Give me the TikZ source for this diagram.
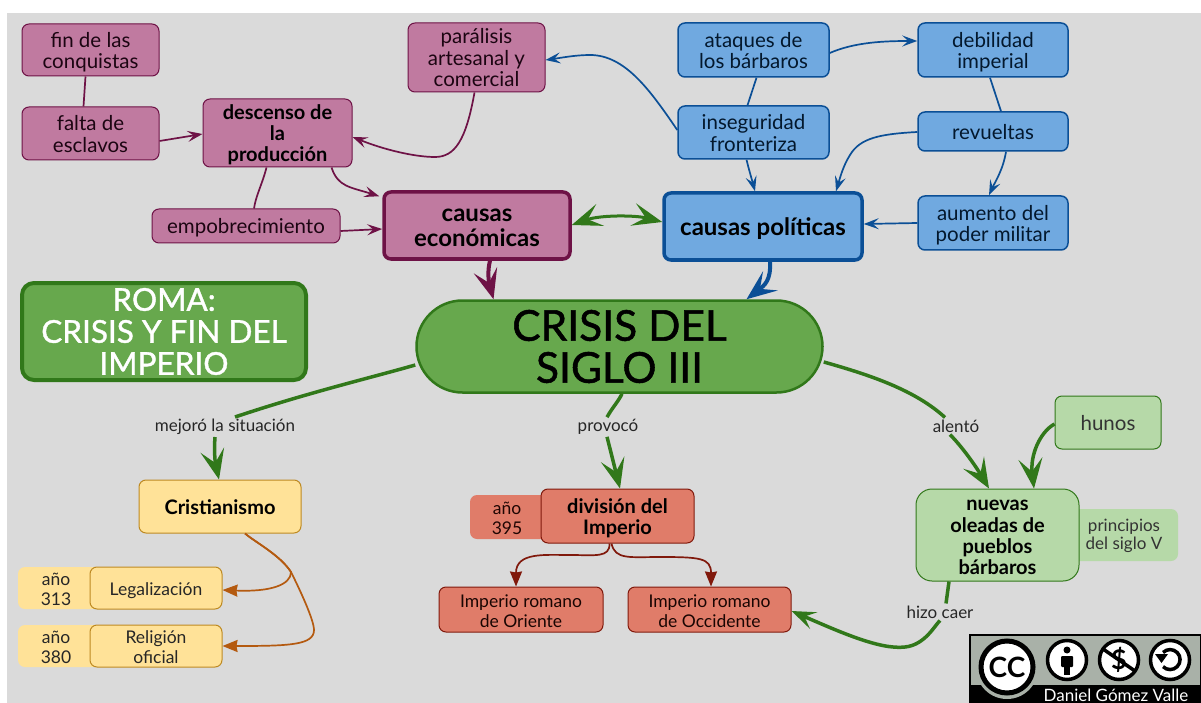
\documentclass[tikz,border=0pt]{standalone}
\usepackage{fontspec}
\setmainfont{Lato}
\newfontfamily\fatfont[FakeBold=1.2]{Lato}
\usetikzlibrary{arrows.meta,calc,positioning}
\definecolor{bgG}{HTML}{DADADA}
\definecolor{mar}{HTML}{6E1246}
\definecolor{marF}{HTML}{C07AA0}
\definecolor{blu}{HTML}{0B4F96}
\definecolor{bluF}{HTML}{70A9E0}
\definecolor{grn}{HTML}{31781A}
\definecolor{grnF}{HTML}{67A84D}
\definecolor{lgF}{HTML}{B6D9A8}
\definecolor{yelF}{HTML}{FFE298}
\definecolor{yelD}{HTML}{BE8A22}
\definecolor{org}{HTML}{B45A10}
\definecolor{redF}{HTML}{E07C69}
\definecolor{redD}{HTML}{80190C}
\definecolor{ccG}{HTML}{A9B1A8}
\tikzset{
 x=1pt,y=-1pt,
 bx/.style={rounded corners=7pt,inner sep=0pt},
 mb/.style={draw=mar,fill=marF,line width=1pt,text=black!75!mar,font=\fontsize{20.5}{21}\selectfont},
 bb/.style={draw=blu,fill=bluF,line width=1.5pt,text=black!70!blu,font=\fontsize{20.5}{21}\selectfont},
 bold18/.style={font=\bfseries\fontsize{20}{21}\selectfont,text=black},
 bold21/.style={font=\bfseries\fontsize{24}{24}\selectfont,text=black},
 small/.style={font=\fontsize{17.5}{20}\selectfont},
 lbl/.style={fill=bgG,inner sep=2pt,text=black!85,font=\fontsize{17}{17}\selectfont},
 mline/.style={draw=mar,line width=1.7pt},
 bline/.style={draw=blu,line width=1.7pt},
 gline/.style={draw=grn,line width=3.5pt},
 oline/.style={draw=org,line width=1.7pt},
 rline/.style={draw=redD,line width=1.7pt},
 tip/.style={-{Stealth[length=15pt,width=11pt,inset=6pt]}},
 bigtip/.style={-{Stealth[length=30pt,width=24pt,inset=13pt]}},
 solid tip/.style={-{Stealth[length=15pt,width=12pt,inset=1pt]}},
}
\newcommand{\boxat}[7]{\pgfmathsetmacro\bxw{#5-#3}\pgfmathsetmacro\bxh{#6-#4}\pgfmathsetmacro\bxx{(#3+#5)/2}\pgfmathsetmacro\bxy{(#4+#6)/2}\node[bx,#1,minimum width=\bxw pt,minimum height=\bxh pt] (#2) at (\bxx,\bxy) {\raisebox{-3.5pt}[\height][\depth]{\begin{tabular}{@{}c@{}}#7\end{tabular}}}}
\begin{document}
\begin{tikzpicture}
\useasboundingbox (0,0) rectangle (1201,703);
\fill[white] (0,0) rectangle (1201,703);
\fill[bgG] (7,13) rectangle (1201,703);

% secondary (attached) boxes first
\fill[yelF,rounded corners=7pt] (18,567) rectangle (100,609);
\fill[yelF,rounded corners=7pt] (18,625) rectangle (100,667);
\fill[redF,rounded corners=7pt] (470,495) rectangle (550,539);
\fill[lgF,rounded corners=7pt] (1070,509) rectangle (1178,561);

% maroon
\boxat{mb}{fin}{22}{24}{159}{76}{fin de las\\conquistas};
\boxat{mb}{falta}{22}{107}{159}{160}{falta de\\esclavos};
\boxat{mb,bold18}{desc}{203}{99}{352}{167}{descenso de\\la\\producción};
\boxat{mb}{par}{408}{23}{545}{92}{parálisis\\artesanal y\\comercial};
\boxat{mb}{emp}{152}{209}{340}{243}{empobrecimiento};
\boxat{mb,line width=3.5pt,bold21}{econ}{384}{192}{570}{259}{causas\\económicas};
% blue
\boxat{bb}{ata}{678}{23}{829}{77}{ataques de\\los bárbaros};
\boxat{bb}{ins}{678}{106}{829}{159}{inseguridad\\fronteriza};
\boxat{bb}{deb}{918}{23}{1068}{77}{debilidad\\imperial};
\boxat{bb}{rev}{918}{112}{1068}{151}{revueltas};
\boxat{bb}{aum}{918}{196}{1068}{250}{aumento del\\poder militar};
\boxat{bb,line width=3.5pt,bold21}{pol}{664}{193}{862}{260}{causas políticas};
% green
\node[draw=grn,fill=grnF,line width=2.5pt,rounded corners=46pt,minimum width=406pt,minimum height=92pt,align=center,inner sep=0pt,font=\fatfont\fontsize{42.5}{42}\selectfont,text=black] (cri) at (619.5,346.5) {CRISIS DEL\\SIGLO III};
\node[draw=grn,fill=grnF,line width=4pt,rounded corners=12pt,minimum width=284pt,minimum height=97pt,align=center,inner sep=0pt,font=\fatfont\fontsize{31.5}{32}\selectfont,text=white] (rom) at (164,331.5) {ROMA:\\CRISIS Y FIN DEL\\IMPERIO};
% yellow
\boxat{draw=yelD,fill=yelF,line width=1pt,bold18}{cris}{139}{480}{301}{533}{Cristianismo};
\boxat{draw=yelD,fill=yelF,line width=1pt,small,text=black!85}{leg}{90}{567}{222}{609}{Legalización};
\boxat{draw=yelD,fill=yelF,line width=1pt,small,text=black!85}{rel}{90}{625}{222}{667}{Religión\\oficial};
\node[small,align=center,text=black!85] (a313) at (56,589) {año\\313};
\node[small,align=center,text=black!85] (a380) at (56,647) {año\\380};
% red
\boxat{draw=redD,fill=redF,line width=1pt,bold18}{div}{541}{489}{694}{543}{división del\\Imperio};
\node[small,align=center,text=black!75!redD] (a395) at (507,518) {año\\395};
\boxat{draw=redD,fill=redF,line width=1pt,small,text=black!80!redD}{ori}{439}{587}{603}{632}{Imperio romano\\de Oriente};
\boxat{draw=redD,fill=redF,line width=1pt,small,text=black!80!redD}{occ}{628}{587}{791}{632}{Imperio romano\\de Occidente};
% light green
\boxat{draw=grn,fill=lgF,line width=1pt,font=\fontsize{20.5}{21}\selectfont,text=black!80}{hun}{1055}{396}{1161}{449}{hunos};
\boxat{draw=grn,fill=lgF,line width=1pt,rounded corners=16pt,bold18}{nue}{916}{489}{1079}{581}{nuevas\\oleadas de\\pueblos\\bárbaros};
\node[font=\fontsize{17}{18}\selectfont,align=center,text=black!80] (pri) at (1124,536) {principios\\del siglo V};
% labels
\node[lbl] (l1) at (225,427) {mejoró la situación};
\node[lbl] (l2) at (608,427) {provocó};
\node[lbl] (l3) at (956,426) {alentó};
\node[lbl] (l4) at (940,612) {hizo caer};

% maroon connectors
\draw[mline] ($(fin.south)+(-5,0)$) -- ($(falta.north)+(-7,0)$);
\draw[mline,tip] (falta.east |- 0,141) -- (desc.west |- 0,134);
\draw[mline,tip] ($(par.south)+(-2,0)$) .. controls (466,140) and (455,157) .. (435,157) .. controls (415,157) and (385,150) .. (desc.east |- 0,137);
\draw[mline,tip] ($(desc.south)+(54,0)$) .. controls (338,187) and (350,187) .. ($(econ.north west)+(-3,6)$);
\draw[mline] ($(desc.south)+(-11,0)$) .. controls (262,185) and (256,195) .. ($(emp.north)+(8,0)$);
\draw[mline,tip] (emp.east |- 0,231) -- (econ.west |- 0,229);
\draw[draw=mar,line width=4pt,bigtip] ($(econ.south)+(13,0)$) .. controls (487,272) and (489,283) .. ($(cri.north)+(-126,0)$);
% blue connectors
\draw[bline,tip] (ins.west |- 0,130) .. controls (650,90) and (625,55) .. (590,55) .. controls (575,55) and (560,58) .. (par.east |- 0,60);
\draw[bline,tip] (ata.east |- 0,53) .. controls (855,42) and (885,41) .. (deb.west |- 0,41);
\draw[bline] ($(ata.south)+(3,0)$) -- ($(ins.north)+(-6,0)$);
\draw[bline] ($(deb.south)+(-3,0)$) -- ($(rev.north)+(8,0)$);
\draw[bline,tip] (rev.west |- 0,132) .. controls (880,134) and (860,138) .. (850,155) .. controls (843,166) and (840,178) .. (pol.north -| 836,0);
\draw[bline,tip] ($(rev.south)+(13,0)$) .. controls (1003,170) and (995,182) .. ($(aum.north)+(-4,0)$);
\draw[bline,tip] ($(ins.south)+(-7,0)$) .. controls (749,170) and (752,180) .. ($(pol.north)+(-8,0)$);
\draw[bline,tip] (aum.west |- 0,223) -- (pol.east |- 0,224);
\draw[draw=blu,line width=4pt,bigtip] ($(pol.south)+(7,0)$) .. controls (771,280) and (765,285) .. ($(cri.north)+(127,0)$);
% green connectors
\draw[draw=grn,line width=3pt,{Stealth[length=30pt,width=23pt,inset=13pt]}-{Stealth[length=30pt,width=23pt,inset=13pt]}] (econ.east |- 0,225) .. controls (600,215) and (635,215) .. (pol.west |- 0,222);
\draw[gline] (cri.west |- 0,365) .. controls (370,378) and (310,392) .. (l1.north -| 235,0);
\draw[gline,bigtip] (l1.south -| 215,0) .. controls (214,450) and (215,462) .. (cris.north -| 219,0);
\draw[gline] (cri.south -| 622,0) .. controls (618,402) and (612,408) .. (l2.north -| 607,0);
\draw[gline,bigtip] (l2.south -| 607,0) -- (div.north -| 620,0);
\draw[gline] (cri.east |- 0,362) .. controls (870,375) and (915,390) .. (l3.north -| 945,0);
\draw[gline,bigtip] (l3.south -| 950,0) .. controls (965,450) and (978,470) .. (nue.north -| 989,0);
\draw[gline,bigtip] (hun.west |- 0,424) .. controls (1040,432) and (1030,455) .. (nue.north -| 1034,0);
\draw[gline] (nue.south -| 949,0) -- (l4.north -| 946,0);
\draw[gline,{Stealth[length=24pt,width=18pt,inset=10pt]}-] (occ.east |- 0,611) .. controls (840,632) and (880,650) .. (905,647) .. controls (925,645) and (935,625) .. (l4.south -| 940,0);
% orange connectors
\draw[oline,solid tip] ($(cris.south)+(25,0)$) .. controls (255,542) and (280,555) .. (291,572) .. controls (291,585) and (270,592) .. (leg.east |- 0,590);
\draw[oline,solid tip] ($(cris.south)+(25,0)$) .. controls (255,542) and (280,555) .. (291,572) .. controls (300,590) and (314,620) .. (314,630) .. controls (314,645) and (290,646) .. (rel.east |- 0,646);
% red connectors
\draw[rline,solid tip] ($(div.south)+(-8,0)$) .. controls (610,558) and (595,555) .. (570,555) .. controls (545,555) and (516,552) .. ($(ori.north)+(-5,0)$);
\draw[rline,solid tip] ($(div.south)+(-6,0)$) .. controls (615,560) and (630,557) .. (660,557) .. controls (700,557) and (711,558) .. ($(occ.north)+(1.5,0)$);

% licence badge
\fill[black] (969,634) rectangle (1201,703);
\fill[ccG] (970.5,635.5) rectangle (1199.5,685);
\node[circle,fill=ccG,minimum size=62pt,inner sep=0pt] (ccb) at (1007,668) {};
\node[circle,draw=black,fill=white,line width=5pt,minimum size=52pt,inner sep=0pt,font=\bfseries\fontsize{28}{28}\selectfont] (cc) at (1007,667) {CC};
\node[circle,draw=black,fill=white,line width=3.5pt,minimum size=39pt,inner sep=0pt] (by) at (1067,660) {};
\fill[black] (1067,650) circle (3.5pt);
\fill[black,rounded corners=1pt] (1061,656) rectangle (1073,667);
\fill[black] (1064,667) rectangle (1070,675);
\node[circle,draw=black,fill=white,line width=3.5pt,minimum size=39pt,inner sep=0pt,font=\bfseries\fontsize{27}{27}\selectfont] (nc) at (1119,660) {\$};
\draw[black,line width=3.5pt] (1103,649) -- (1135,671);
\node[circle,draw=black,fill=white,line width=3.5pt,minimum size=39pt,inner sep=0pt] (sa) at (1170,660) {};
\draw[black,line width=3.5pt] (1163,652.5) arc[start angle=135,end angle=-135,radius=10pt];
\fill[black] (1155,654) -- (1168,654) -- (1161.5,663) -- cycle;
\node[text=white,font=\fontsize{17}{17}\selectfont,inner sep=0pt] (auth) at (1116,695) {Daniel Gómez Valle};
\end{tikzpicture}
\end{document}
